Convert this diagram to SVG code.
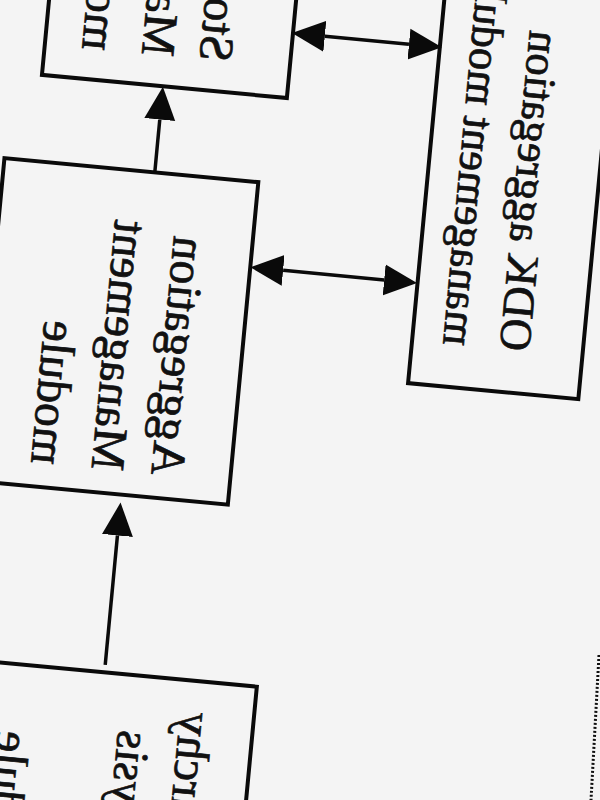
<svg xmlns="http://www.w3.org/2000/svg" width="600" height="800" viewBox="0 0 600 800">
<style>
.box{fill:none;stroke:#0a0a0a;stroke-width:4}
.t{font-family:"Liberation Serif","Times New Roman",serif;font-size:48px;fill:#111;stroke:#111;stroke-width:0.7}
.t2{font-family:"Liberation Serif","Times New Roman",serif;font-size:45px;fill:#111;stroke:#111;stroke-width:0.7}
.con{stroke:#0a0a0a;stroke-width:3.5;fill:none;marker-end:url(#ah)}
.dbl{marker-start:url(#ah)}
</style>
<defs>
<marker id="ah" markerUnits="userSpaceOnUse" markerWidth="36" markerHeight="34" viewBox="0 -17 36 34" refX="0" refY="0" orient="auto-start-reverse"><path d="M0,-15.5 L33,0 L0,15.5 Z" fill="#0a0a0a"/></marker>
</defs>
<rect width="600" height="800" fill="#f4f4f4"/>
<g transform="rotate(5.4 300 400)">
<g id="storage-management-module">
<rect class="box" x="12.5" y="-300" width="246" height="400.6"/>
<text class="t" transform="matrix(0,-1,-1,0,168,71)">Storage</text>
<text class="t" transform="matrix(0,-1,-1,0,110,71)">Management</text>
<text class="t" transform="matrix(0,-1,-1,0,50,71)">module</text>
</g>
<g id="aggregation-management-module">
<rect class="box" x="-17" y="187" width="255" height="324"/>
<text class="t" transform="matrix(0,-1,-1,0,159,488)">Aggregation</text>
<text class="t" transform="matrix(0,-1,-1,0,99,488)">Management</text>
<text class="t" transform="matrix(0,-1,-1,0,38,488)">module</text>
</g>
<g id="odk-aggregation-management-module">
<rect class="box" x="406" y="-300" width="171" height="673"/>
<text class="t2" transform="matrix(0,-1,-1,0,494,331)">ODK aggregation</text>
<text class="t2" transform="matrix(0,-1,-1,0,437,331)">management module</text>
</g>
<g id="hierarchy-analysis-module">
<rect class="box" x="-300" y="689.5" width="584" height="500"/>
<text class="t" text-anchor="end" transform="matrix(0,-1,-1,0,210,721)">Hierarchy</text>
<text class="t" text-anchor="end" transform="matrix(0,-1,-1,0,150,745)">analysis</text>
<text class="t" text-anchor="end" transform="matrix(0,-1,-1,0,30,757)">module</text>
</g>
<g id="connectors">
<path class="con" d="M134,187 V134"/>
<path class="con" d="M131,682 V552"/>
<path class="con dbl" d="M290.5,35.5 H375"/>
<path class="con dbl" d="M271,272.5 H372.5"/>
</g>
</g>
<path d="M599,655 L591,800" stroke="#111" stroke-width="3" stroke-dasharray="2 2" fill="none"/>
</svg>
